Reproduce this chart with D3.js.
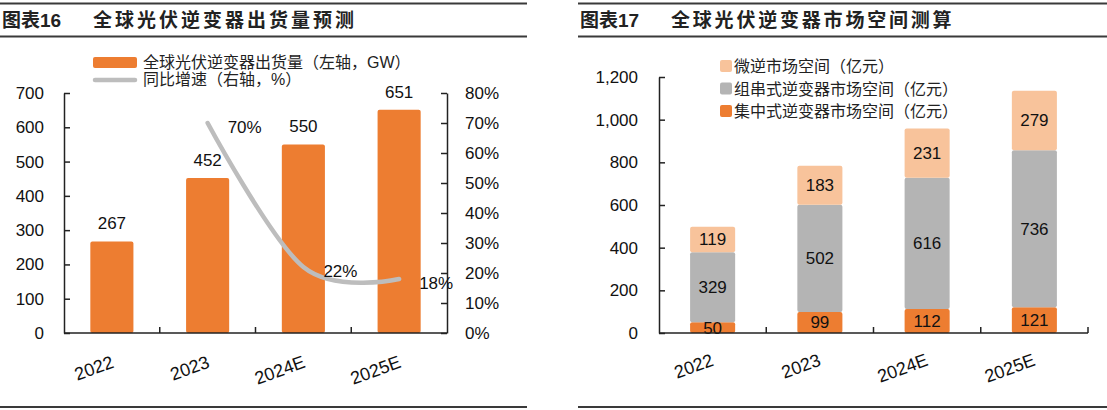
<!DOCTYPE html>
<html>
<head>
<meta charset="utf-8">
<script src="https://cdn.jsdelivr.net/npm/d3@7"></script>
<style>
  html, body { margin: 0; padding: 0; background: #fff; }
  svg { display: block; font-family: "Liberation Sans", Arial, "Noto Sans CJK SC", sans-serif; }
</style>
</head>
<body>
<svg id="chart" width="1107" height="410"></svg>
<script>
// ---------- data ----------
const years = ["2022", "2023", "2024E", "2025E"];
const shipments = [267, 452, 550, 651];          // GW, left axis
const yoyGrowth = [null, 70, 22, 18];            // %, right axis
const leftTicks = [0, 100, 200, 300, 400, 500, 600, 700];
const pctTicks = [0, 10, 20, 30, 40, 50, 60, 70, 80];

const centralInv = [50, 99, 112, 121];           // 集中式
const stringInv = [329, 502, 616, 736];          // 组串式
const microInv = [119, 183, 231, 279];           // 微逆
const rightTicks = [0, 200, 400, 600, 800, 1000, 1200];

const title1a = "图表16", title1b = "全球光伏逆变器出货量预测";
const title2a = "图表17", title2b = "全球光伏逆变器市场空间测算";
const legend1 = ["全球光伏逆变器出货量（左轴，GW）", "同比增速（右轴，%）"];
const legend2 = ["微逆市场空间（亿元）", "组串式逆变器市场空间（亿元）", "集中式逆变器市场空间（亿元）"];

// ---------- style ----------
const ORANGE = "#ED7D31", GREY = "#B4B4B4", PEACH = "#F8C39B", LINE = "#BDBDBD";
const TXT = "#111";
const svg = d3.select("#chart");

function panelFrame(x0, x1, ta, tb, tbSpacing) {
  const g = svg.append("g");
  [3.5, 36.5, 407].forEach(y => {
    g.append("line").attr("x1", x0).attr("x2", x1).attr("y1", y).attr("y2", y)
      .attr("stroke", "#3a3a3a").attr("stroke-width", 2);
  });
  g.append("text").attr("x", x0 + 2).attr("y", 27).attr("font-size", 19).attr("font-weight", "bold")
    .attr("fill", "#222").text(ta);
  g.append("text").attr("x", x0 + 93).attr("y", 27).attr("font-size", 19).attr("font-weight", "bold")
    .attr("letter-spacing", tbSpacing).attr("fill", "#222").text(tb);
}
panelFrame(0, 527, title1a, title1b, 3);
panelFrame(578, 1107, title2a, title2b, 2.8);

// ---------- chart 1 ----------
{
  const L = 64, R = 447, T = 93, B = 333;
  const x = d3.scaleBand().domain(years).range([L, R]).paddingInner(0.55).paddingOuter(0.275);
  const y = d3.scaleLinear().domain([0, 700]).range([B, T]);
  const y2 = d3.scaleLinear().domain([0, 80]).range([B, T]);
  const g = svg.append("g");

  // bars
  g.selectAll("rect.bar").data(years).join("rect").attr("class", "bar")
    .attr("x", d => x(d)).attr("width", x.bandwidth())
    .attr("y", (d, i) => y(shipments[i])).attr("height", (d, i) => B - y(shipments[i]))
    .attr("rx", 2).attr("fill", ORANGE);
  g.selectAll("text.bl").data(years).join("text").attr("class", "bl")
    .attr("x", d => x(d) + x.bandwidth() / 2).attr("y", (d, i) => y(shipments[i]) - 12)
    .attr("text-anchor", "middle").attr("font-size", 17).attr("fill", TXT)
    .text((d, i) => shipments[i]);

  // axes
  const ax = g.append("g").attr("transform", `translate(${L},0)`)
    .call(d3.axisLeft(y).tickValues(leftTicks).tickSizeInner(-6).tickSizeOuter(0).tickPadding(20));
  const ax2 = g.append("g").attr("transform", `translate(${R},0)`)
    .call(d3.axisRight(y2).tickValues(pctTicks).tickSizeInner(-6).tickSizeOuter(0).tickPadding(18)
      .tickFormat(d => d + "%"));
  [ax, ax2].forEach(a => {
    a.selectAll("path.domain").attr("stroke", "#222").attr("stroke-width", 1.5);
    a.selectAll(".tick line").attr("stroke", "#222").attr("stroke-width", 1.5);
    a.selectAll(".tick text").attr("font-size", 17).attr("fill", TXT)
      .attr("font-family", "Liberation Sans, Arial, sans-serif");
  });
  g.append("line").attr("x1", L).attr("x2", R).attr("y1", B).attr("y2", B)
    .attr("stroke", "#222").attr("stroke-width", 1.5);
  const step = x.step();
  g.selectAll("line.xt").data(years.slice(1)).join("line").attr("class", "xt")
    .attr("x1", d => x(d) - (step - x.bandwidth()) / 2).attr("x2", d => x(d) - (step - x.bandwidth()) / 2)
    .attr("y1", B).attr("y2", B - 6).attr("stroke", "#222").attr("stroke-width", 1.5);
  g.selectAll("text.xl").data(years).join("text").attr("class", "xl")
    .attr("transform", d => `translate(${x(d) + x.bandwidth() / 2 + 3},${B + 34}) rotate(-20)`)
    .attr("text-anchor", "end").attr("font-size", 18).attr("fill", TXT).text(d => d);

  // line
  const pts = years.map((d, i) => ({ d, v: yoyGrowth[i] })).filter(p => p.v != null);
  const lineGen = d3.line().x(p => x(p.d) + x.bandwidth() / 2).y(p => y2(p.v)).curve(d3.curveCardinal.tension(0));
  g.append("path").attr("d", lineGen(pts)).attr("fill", "none").attr("stroke", LINE)
    .attr("stroke-width", 4.5).attr("stroke-linecap", "round");
  g.selectAll("text.pl").data(pts).join("text").attr("class", "pl")
    .attr("x", p => x(p.d) + x.bandwidth() / 2 + 20).attr("y", p => y2(p.v) + 10)
    .attr("font-size", 17).attr("fill", TXT).text(p => p.v + "%");

  // legend
  const lg = g.append("g");
  lg.append("rect").attr("x", 93).attr("y", 57).attr("width", 44).attr("height", 11).attr("rx", 2).attr("fill", ORANGE);
  lg.append("line").attr("x1", 95).attr("x2", 135).attr("y1", 80).attr("y2", 80)
    .attr("stroke", LINE).attr("stroke-width", 4.5).attr("stroke-linecap", "round");
  lg.selectAll("text").data(legend1).join("text").attr("x", 143).attr("y", (d, i) => 68 + i * 17)
    .attr("font-size", 16).attr("fill", "#222").text(d => d);
}

// ---------- chart 2 ----------
{
  const L = 659, R = 1088, T = 77, B = 333;
  const x = d3.scaleBand().domain(years).range([L, R]).paddingInner(0.58).paddingOuter(0.29);
  const y = d3.scaleLinear().domain([0, 1200]).range([B, T]);
  const g = svg.append("g");

  const rows = years.map((d, i) => ({ year: d, central: centralInv[i], string: stringInv[i], micro: microInv[i] }));
  const keys = ["central", "string", "micro"];
  const colors = { central: ORANGE, string: GREY, micro: PEACH };
  const stack = d3.stack().keys(keys)(rows);

  stack.forEach(layer => {
    g.selectAll(null).data(layer).join("rect")
      .attr("x", d => x(d.data.year)).attr("width", x.bandwidth())
      .attr("y", d => y(d[1])).attr("height", d => y(d[0]) - y(d[1]))
      .attr("rx", 2).attr("fill", colors[layer.key]);
  });
  stack.forEach(layer => {
    g.selectAll(null).data(layer).join("text")
      .attr("x", d => x(d.data.year) + x.bandwidth() / 2)
      .attr("y", d => (y(d[0]) + y(d[1])) / 2 + 6)
      .attr("text-anchor", "middle").attr("font-size", 17).attr("fill", TXT)
      .text(d => d.data[layer.key]);
  });

  const ax = g.append("g").attr("transform", `translate(${L},0)`)
    .call(d3.axisLeft(y).tickValues(rightTicks).tickSizeInner(-6).tickSizeOuter(0).tickPadding(21)
      .tickFormat(d3.format(",")));
  ax.selectAll("path.domain").attr("stroke", "#222").attr("stroke-width", 1.5);
  ax.selectAll(".tick line").attr("stroke", "#222").attr("stroke-width", 1.5);
  ax.selectAll(".tick text").attr("font-size", 17).attr("fill", TXT)
    .attr("font-family", "Liberation Sans, Arial, sans-serif");
  g.append("line").attr("x1", L).attr("x2", R).attr("y1", B).attr("y2", B)
    .attr("stroke", "#222").attr("stroke-width", 1.5);
  const step = x.step();
  g.selectAll("line.xt").data(years).join("line").attr("class", "xt")
    .attr("x1", d => x(d) + x.bandwidth() + (step - x.bandwidth()) / 2)
    .attr("x2", d => x(d) + x.bandwidth() + (step - x.bandwidth()) / 2)
    .attr("y1", B).attr("y2", B - 6).attr("stroke", "#222").attr("stroke-width", 1.5);
  g.selectAll("text.xl").data(years).join("text").attr("class", "xl")
    .attr("transform", d => `translate(${x(d) + x.bandwidth() / 2 + 2},${B + 32}) rotate(-20)`)
    .attr("text-anchor", "end").attr("font-size", 18).attr("fill", TXT).text(d => d);

  // legend
  const lk = ["micro", "string", "central"];
  const lg = g.append("g");
  lg.selectAll("rect").data(lk).join("rect").attr("x", 720).attr("y", (d, i) => 60 + i * 22.5)
    .attr("width", 12).attr("height", 12).attr("rx", 2).attr("fill", d => colors[d]);
  lg.selectAll("text").data(legend2).join("text").attr("x", 734).attr("y", (d, i) => 72 + i * 22.5)
    .attr("font-size", 16).attr("fill", "#222").text(d => d);
}
</script>
</body>
</html>
